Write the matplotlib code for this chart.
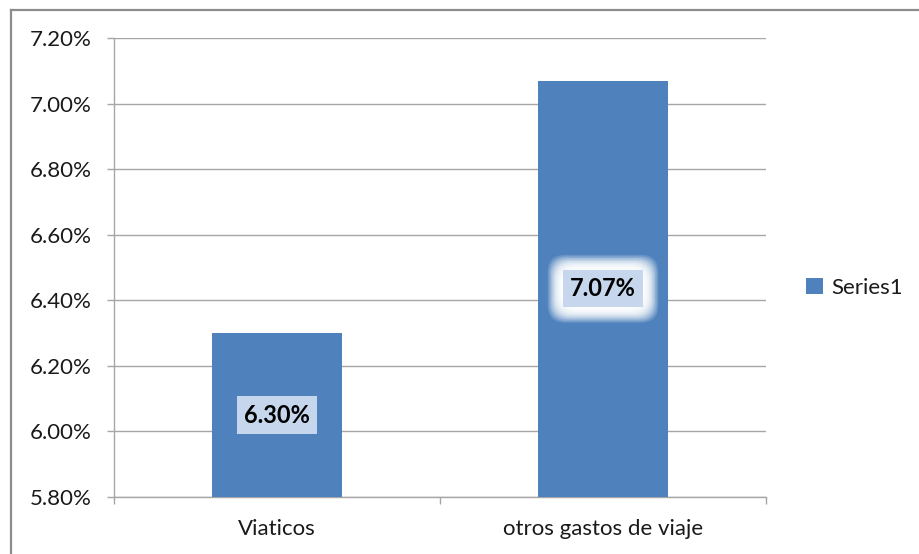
"""Bar chart: Viaticos vs otros gastos de viaje."""
import matplotlib
matplotlib.use("Agg")
import matplotlib.pyplot as plt
from matplotlib.lines import Line2D
from matplotlib.ticker import FuncFormatter, FixedLocator

# Data
categories = ["Viaticos", "otros gastos de viaje"]
values = [6.30, 7.07]           # percent
value_labels = ["6.30%", "7.07%"]
series_name = "Series1"
y_ticks = [5.80, 6.00, 6.20, 6.40, 6.60, 6.80, 7.00, 7.20]

bar_color = "#4f81bd"
grid_color = "#a6a6a6"
box_color = "#c6d7ed"

plt.rcParams["font.family"] = ["Lato", "DejaVu Sans"]

fig = plt.figure(figsize=(9.2, 5.54), dpi=100)
W, H = 920, 554
ax = fig.add_axes([114 / W, 1 - 497 / H, (766 - 114) / W, (497 - 38) / H])

x = list(range(len(categories)))
bars = ax.bar(x, values, width=0.4, color=bar_color, zorder=3, label=series_name)

ax.set_xlim(-0.5, len(categories) - 0.5)
ax.set_ylim(y_ticks[0], y_ticks[-1])
ax.set_yticks(y_ticks)
ax.yaxis.set_major_formatter(FuncFormatter(lambda v, p: f"{v:.2f}%"))
ax.set_xticks(x)
ax.set_xticklabels(categories)
ax.xaxis.set_minor_locator(FixedLocator([i - 0.5 for i in range(len(categories) + 1)]))

ax.grid(axis="y", color=grid_color, linewidth=1, zorder=0)
for s in ["top", "right"]:
    ax.spines[s].set_visible(False)
for s in ["left", "bottom"]:
    ax.spines[s].set_color(grid_color)
    ax.spines[s].set_linewidth(1)

ax.tick_params(axis="y", length=5, width=1, color=grid_color, pad=11,
               labelsize=16, labelcolor="#1a1a1a")
ax.tick_params(axis="x", which="major", length=0, pad=16,
               labelsize=16, labelcolor="#1a1a1a")
ax.tick_params(axis="x", which="minor", length=5, width=1, color=grid_color)

# Value labels in the middle of each bar
for i, (b, lab) in enumerate(zip(bars, value_labels)):
    cx = b.get_x() + b.get_width() / 2
    cy = (y_ticks[0] + b.get_height()) / 2
    if i == 1:
        # soft white glow around the second label
        n = 10
        for k in range(n):
            pad = 0.95 - k * 0.065
            ax.text(cx, cy, lab, ha="center", va="center", fontsize=17,
                    fontweight="bold", color="none", zorder=4,
                    bbox=dict(boxstyle=f"round,pad={pad},rounding_size=0.75",
                              fc="white", ec="none", alpha=0.16 + 0.04 * k))
    ax.text(cx, cy, lab, ha="center", va="center", fontsize=17,
            fontweight="bold", color="black", zorder=5,
            bbox=dict(boxstyle="square,pad=0.3", fc=box_color, ec="none"))

# Legend
fig.legend(handles=[bars], labels=[series_name], loc="center left",
           bbox_to_anchor=(786 / W, 1 - 288 / H), bbox_transform=fig.transFigure,
           frameon=False, fontsize=16, handlelength=0.75, handleheight=0.75,
           handletextpad=0.4, labelcolor="#1a1a1a")

# Outer chart frame (top and left edges visible)
frame_color = "#8c8c8c"
fig.add_artist(Line2D([11 / W, 1], [1 - 10 / H, 1 - 10 / H], color=frame_color,
                      lw=1.6, transform=fig.transFigure))
fig.add_artist(Line2D([11 / W, 11 / W], [0, 1 - 10 / H], color=frame_color,
                      lw=1.6, transform=fig.transFigure))

fig.savefig("out.png", dpi=100)
